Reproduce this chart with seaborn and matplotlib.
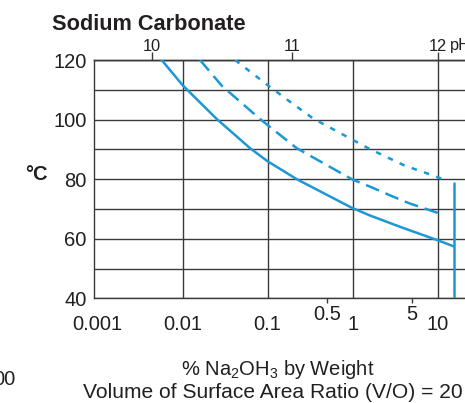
import matplotlib
matplotlib.use("Agg")
import matplotlib.pyplot as plt
from matplotlib.ticker import NullLocator
import pandas as pd
import seaborn as sns

# ---------------- data ----------------
solid_x = [0.00566, 0.0101, 0.0252, 0.0621, 0.100, 0.220, 0.977, 1.60, 3.95, 10.0, 15.3]
solid_t = [120.0, 111.4, 100.2, 90.4, 86.0, 80.0, 70.4, 67.8, 63.6, 59.5, 57.5]

dashed_x = [0.0160, 0.0288, 0.0813, 0.220, 0.977, 1.60, 3.01, 4.74, 10.0, 11.9]
dashed_t = [120.0, 111.4, 100.2, 90.4, 80.0, 77.5, 74.1, 71.8, 68.7, 67.9]

dotted_x = [0.0413, 0.102, 0.183, 0.342, 1.52, 4.14, 8.53, 12.8]
dotted_t = [120.0, 111.4, 106.0, 100.4, 90.4, 84.5, 81.4, 79.5]

limit_x = [15.7, 15.7]
limit_t = [40.0, 78.6]

x_ticks = [0.001, 0.01, 0.1, 1, 10]
x_labels = ["0.001", "0.01", "0.1", "1", "10"]
x_minor = [0.5, 5]
x_minor_labels = ["0.5", "5"]
y_ticks = [40, 60, 80, 100, 120]
y_grid_minor = [50, 70, 90, 110]
ph_values = [10, 11, 12]
ph_at_pct = [0.00432, 0.192, 10.0]

title = "Sodium Carbonate"
y_title = "°C"
x_title = r"% Na$_\mathregular{2}$OH$_\mathregular{3}$ by Weight"
x_title2 = "Volume of Surface Area Ratio (V/O) = 20"

# ---------------- style ----------------
sns.set_style("white")
plt.rcParams["font.family"] = ["Liberation Sans", "DejaVu Sans"]
plt.rcParams["mathtext.fontset"] = "custom"
plt.rcParams["mathtext.rm"] = "Liberation Sans"

BLUE = "#1b98d5"
GRID = "#3a3a3a"
TXT = "#231f20"
LW = 1.8

W, H = 465, 403
fig = plt.figure(figsize=(W / 100, H / 100), dpi=100)
ax = fig.add_axes([94 / W, (H - 298.3) / H, 381.8 / W, 238.3 / H])
ax.set_xscale("log")
ax.set_xlim(10 ** -3.043, 10 ** 1.45)
ax.set_ylim(40, 120)

# grid
ax.set_yticks(y_ticks)
ax.set_yticks(y_grid_minor, minor=True)
ax.grid(True, axis="y", which="both", color=GRID, lw=1.0, zorder=0)
ax.grid(False, axis="x")
for xv in x_ticks[1:]:
    ax.axvline(xv, color=GRID, lw=1.0, zorder=0)

# curves
sns.lineplot(x=solid_x, y=solid_t, ax=ax, color=BLUE, lw=LW,
             estimator=None, sort=False, zorder=3)
sns.lineplot(x=dashed_x, y=dashed_t, ax=ax, color=BLUE, lw=LW,
             estimator=None, sort=False, linestyle=(0, (5.6, 2.8)), zorder=3)
sns.lineplot(x=dotted_x, y=dotted_t, ax=ax, color=BLUE, lw=LW,
             estimator=None, sort=False, linestyle=(0, (2.2, 3.0)), zorder=3)
sns.lineplot(x=limit_x, y=limit_t, ax=ax, color=BLUE, lw=LW,
             estimator=None, sort=False, zorder=3)

# x ticks
ax.set_xticks(x_ticks, labels=x_labels)
ax.set_xticks(x_minor, labels=x_minor_labels, minor=True)
ax.tick_params(axis="x", which="major", length=0, pad=12, labelsize=14.5, labelcolor=TXT)
ax.tick_params(axis="x", which="minor", length=3.5, width=1.0, pad=1.3,
               labelsize=14.5, labelcolor=TXT, color=GRID, direction="out", bottom=True)
ax.tick_params(axis="y", which="both", length=0, pad=5.3, labelsize=14.5, labelcolor=TXT)
ax.set_xlabel("")
ax.set_ylabel("")

for s in ["left", "bottom", "top"]:
    ax.spines[s].set_color(GRID)
    ax.spines[s].set_linewidth(1.0)
ax.spines["right"].set_visible(False)

# pH scale on top
sec = ax.secondary_xaxis("top")
sec.set_xticks(ph_at_pct, labels=[str(v) for v in ph_values])
sec.xaxis.set_minor_locator(NullLocator())
sec.tick_params(axis="x", length=5.5, width=1.0, pad=-1.0, labelsize=11.8,
                labelcolor=TXT, color=GRID, direction="out")
sec.spines["top"].set_color(GRID)
sec.spines["top"].set_linewidth(1.0)

def fx(px):
    return px / W

def fy(py):
    return (H - py) / H

fig.text(fx(51.7), fy(29.5), title, fontsize=15.7, fontweight="bold",
         color=TXT, ha="left", va="baseline")
fig.text(fx(450), fy(50), "pH", fontsize=11.8, color=TXT, ha="left", va="baseline")
fig.text(fx(36.5), fy(174.5), y_title, fontsize=14.5, fontweight="bold",
         color=TXT, ha="center", va="center")
fig.text(fx(278), fy(375), x_title, fontsize=14.5, color=TXT, ha="center", va="baseline")
fig.text(fx(83), fy(398.3), x_title2, fontsize=15.1, color=TXT, ha="left", va="baseline")
fig.text(fx(15.5), fy(385), "00", fontsize=14.5, color=TXT, ha="right", va="baseline")

fig.savefig("out.png", dpi=100)
